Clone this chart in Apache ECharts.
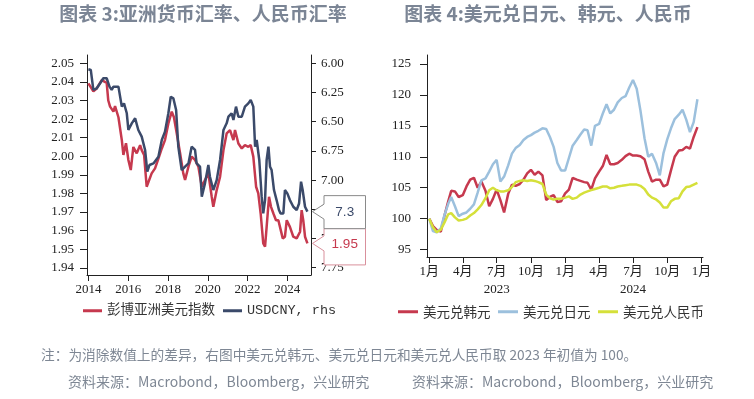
<!DOCTYPE html>
<html>
<head>
<meta charset="utf-8">
<script src="https://cdn.jsdelivr.net/npm/echarts@6/dist/echarts.min.js"></script>
<style>
html,body{margin:0;padding:0;background:#fff;}
#main{width:754px;height:399px;}
</style>
</head>
<body>
<div id="main"></div>
<script>
// 图表3：彭博亚洲美元指数（左轴）
var adxyTime = [2014.00,2014.25,2014.42,2014.67,2014.92,
  2015.00,2015.09,2015.26,2015.34,2015.51,2015.68,2015.76,2015.89,
  2016.01,2016.13,2016.26,2016.43,2016.60,2016.68,2016.80,2016.93,
  2017.02,2017.18,2017.35,2017.52,2017.69,2017.85,
  2018.02,2018.19,2018.30,2018.44,2018.61,2018.77,2018.86,
  2019.03,2019.19,2019.36,2019.53,2019.70,2019.86,
  2020.03,2020.20,2020.28,2020.45,2020.62,2020.79,2020.95,
  2021.12,2021.29,2021.37,2021.54,2021.71,2021.87,
  2022.04,2022.16,2022.29,2022.43,2022.54,2022.66,2022.79,2022.88,2022.96,
  2023.08,2023.18,2023.30,2023.43,2023.55,2023.63,2023.77,2023.88,2023.97,
  2024.13,2024.30,2024.47,2024.64,2024.72,2024.80,2024.89,2025.01];
var adxyVal = [2.0392,2.0350,2.0365,2.0410,2.0395,
  2.0300,2.0267,2.0240,2.0270,2.0210,2.0087,2.0007,2.0070,
  1.9980,1.9926,2.0050,2.0016,2.0060,2.0033,2.0007,1.9836,
  1.9827,1.9908,1.9935,1.9988,2.0042,2.0087,
  2.0177,2.0240,2.0210,2.0123,2.0016,1.9908,1.9872,
  1.9944,1.9998,1.9980,1.9944,1.9836,1.9872,
  1.9908,1.9782,1.9728,1.9818,1.9890,2.0033,2.0123,
  2.0141,2.0087,2.0141,2.0069,2.0042,2.0060,
  2.0051,2.0060,1.9998,1.9836,1.9800,1.9692,1.9531,1.9513,1.9620,
  1.9782,1.9728,1.9692,1.9656,1.9656,1.9620,1.9558,1.9567,1.9656,
  1.9620,1.9567,1.9558,1.9594,1.9710,1.9656,1.9567,1.9531];
// USDCNY（右轴，逆序）
var cnyTime = [2014.00,2014.12,2014.25,2014.42,2014.59,2014.75,2014.92,
  2015.06,2015.17,2015.26,2015.51,2015.68,2015.79,2015.93,
  2016.01,2016.18,2016.35,2016.51,2016.68,2016.85,2016.96,
  2017.07,2017.27,2017.52,2017.69,2017.85,
  2018.02,2018.14,2018.27,2018.41,2018.52,2018.69,2018.86,
  2019.03,2019.19,2019.36,2019.44,2019.61,2019.70,2019.86,
  2020.03,2020.11,2020.28,2020.45,2020.62,2020.79,2020.95,
  2021.04,2021.20,2021.29,2021.42,2021.54,2021.71,2021.87,
  2022.04,2022.16,2022.29,2022.38,2022.46,2022.59,2022.71,2022.79,2022.88,2022.96,
  2023.05,2023.13,2023.21,2023.33,2023.46,2023.58,2023.66,2023.80,2023.88,
  2024.00,2024.13,2024.30,2024.47,2024.59,2024.69,2024.77,2024.89,2025.01];
var cnyVal = [6.051,6.057,6.228,6.214,6.171,6.128,6.128,
  6.200,6.228,6.200,6.200,6.371,6.343,6.428,
  6.571,6.514,6.471,6.571,6.628,6.742,6.928,
  6.871,6.857,6.800,6.657,6.585,
  6.428,6.286,6.300,6.400,6.714,6.914,6.885,
  6.857,6.714,6.742,6.857,6.885,7.142,7.028,
  6.871,6.971,7.085,7.000,6.828,6.571,6.514,
  6.457,6.428,6.485,6.371,6.457,6.457,6.371,
  6.343,6.314,6.371,6.714,6.657,6.828,7.142,7.285,7.171,6.828,
  6.714,6.885,6.914,7.085,7.171,7.256,7.285,7.285,7.085,
  7.114,7.171,7.228,7.256,7.200,7.014,7.085,7.228,7.270];
var yearTicks = [2014,2016,2018,2020,2022,2024];
var leftTicks = [1.94,1.95,1.96,1.97,1.98,1.99,2.00,2.01,2.02,2.03,2.04,2.05];
var rhsTicks = [6.00,6.25,6.50,6.75,7.00,7.25,7.50,7.75];

// 图表4：2023年初=100
var dates = ['2023-01-01','2023-01-11','2023-01-21','2023-02-01','2023-02-11','2023-02-21',
  '2023-03-01','2023-03-11','2023-03-21','2023-04-01','2023-04-11','2023-04-21',
  '2023-05-01','2023-05-11','2023-05-21','2023-06-01','2023-06-11','2023-06-21',
  '2023-07-01','2023-07-11','2023-07-21','2023-08-01','2023-08-11','2023-08-21',
  '2023-09-01','2023-09-11','2023-09-21','2023-10-01','2023-10-11','2023-10-21',
  '2023-11-01','2023-11-11','2023-11-21','2023-12-01','2023-12-11','2023-12-21',
  '2024-01-01','2024-01-11','2024-01-21','2024-02-01','2024-02-11','2024-02-21',
  '2024-03-01','2024-03-11','2024-03-21','2024-04-01','2024-04-11','2024-04-21',
  '2024-05-01','2024-05-11','2024-05-21','2024-06-01','2024-06-11','2024-06-21',
  '2024-07-01','2024-07-11','2024-07-21','2024-08-01','2024-08-11','2024-08-21',
  '2024-09-01','2024-09-11','2024-09-21','2024-10-01','2024-10-11','2024-10-21',
  '2024-11-01','2024-11-11','2024-11-21','2024-12-01','2024-12-11','2024-12-21'];
var krw = [100.0,98.8,98.2, 97.9,100.5,102.8, 104.5,104.4,103.5, 103.8,105.2,106.3,
  106.6,105.0,106.0, 104.5,102.0,103.2, 104.7,103.0,101.0, 104.0,105.5,105.3,
  105.6,106.3,107.3, 107.9,107.1,107.6, 107.0,103.0,103.5, 103.8,102.7,102.8,
  104.1,104.7,106.6, 106.3,106.1,105.9, 105.8,104.7,106.5, 107.6,108.5,110.3,
  108.8,108.8,109.0, 109.5,110.1,110.5, 110.2,110.2,110.1, 109.6,107.6,106.0,
  106.3,106.3,105.2, 105.5,107.8,110.0, 111.0,111.1,111.6, 111.3,113.2,114.8];
var jpy = [100.0,98.0,97.8, 98.4,100.6,102.4, 103.5,102.0,100.4, 100.8,101.0,101.6,
  102.3,104.2,106.2, 106.5,107.6,108.8, 109.5,106.0,106.8, 108.6,110.5,111.4,
  111.9,112.7,113.2, 113.5,113.9,114.2, 114.6,114.5,113.2, 111.6,109.0,107.8,
  107.8,109.8,111.8, 112.7,113.6,114.4, 114.3,111.8,115.0, 115.3,117.0,118.5,
  117.0,117.6,118.8, 119.5,119.8,121.2, 122.4,121.0,117.5, 113.0,110.0,110.5,
  109.0,107.0,110.6, 112.8,114.6,116.1, 116.8,117.6,116.0, 114.0,115.6,119.3];
var rmb = [100.0,98.6,97.8, 98.2,99.4,100.7, 100.9,100.2,99.7, 99.8,100.0,100.5,
  100.9,101.5,102.2, 103.3,104.6,105.0, 104.6,104.4,104.4, 104.6,105.1,105.9,
  106.1,106.2,106.1, 106.2,106.1,105.9, 105.6,103.9,103.3, 103.1,103.2,103.2,
  103.4,103.6,103.2, 103.4,103.9,104.2, 104.4,104.6,104.8, 105.0,105.2,105.2,
  104.9,105.0,105.2, 105.3,105.4,105.5, 105.5,105.5,105.3, 104.8,103.9,103.4,
  103.1,102.6,101.8, 101.8,102.8,103.2, 103.3,104.4,105.1, 105.2,105.5,105.8];
var valTicks = [95,100,105,110,115,120,125];
var monthTicks = ['2023-01-01','2023-04-01','2023-07-01','2023-10-01','2024-01-01',
  '2024-04-01','2024-07-01','2024-10-01','2025-01-01'];

var RED = '#c6394e', NAVY = '#3b4a6a', BLUE = '#9cc0dd', YELLOW = '#d5e03a';
var serif = "'Liberation Serif', 'Noto Sans CJK SC'";
var cjk = "'Noto Sans CJK SC'";

function ts(s) { return echarts.time.parse(s).getTime(); }
function pairs(t, v) {
  return t.map(function(x, i) { return [typeof x === 'string' ? ts(x) : x, v[i]]; });
}

var axisLineStyle = { show: true, onZero: false, lineStyle: { color: '#222', width: 1 } };
var tickStyle = { color: '#222' };
var labelStyle = { fontFamily: serif, fontSize: 13, color: '#222' };
var monthTs = monthTicks.map(ts);

var chart = echarts.init(document.getElementById('main'));
var option = {
  animation: false,
  backgroundColor: '#fff',
  grid: [
    { left: 87, top: 55, width: 224, height: 220 },
    { left: 427, top: 55, width: 276, height: 202 }
  ],
  legend: [
    {
      data: ['彭博亚洲美元指数', 'USDCNY, rhs'],
      left: 78, top: 299, icon: 'rect', itemWidth: 19, itemHeight: 3, itemGap: 8,
      textStyle: { fontFamily: "'Liberation Mono', 'Noto Sans CJK SC'", fontSize: 13.5, color: '#333' }
    },
    {
      data: ['美元兑韩元', '美元兑日元', '美元兑人民币'],
      left: 393, top: 300, icon: 'rect', itemWidth: 20, itemHeight: 3, itemGap: 7.5,
      textStyle: { fontFamily: cjk, fontSize: 13.5, color: '#333' }
    }
  ],
  xAxis: [
    {
      gridIndex: 0, type: 'value', min: 2013.93, max: 2025.19,
      axisLine: axisLineStyle,
      axisTick: { show: true, length: 6, customValues: yearTicks, lineStyle: tickStyle },
      axisLabel: Object.assign({ customValues: yearTicks, margin: 8, formatter: function(v) { return String(v); } }, labelStyle),
      splitLine: { show: false }
    },
    {
      gridIndex: 1, type: 'value', min: ts('2022-12-26'), max: ts('2025-01-05'),
      axisLine: axisLineStyle,
      axisTick: { show: true, length: 6, customValues: monthTs, lineStyle: tickStyle },
      axisLabel: Object.assign({
        customValues: monthTs, margin: 6, lineHeight: 18,
        formatter: function(v) {
          var d = new Date(v), m = d.getMonth() + 1;
          return m === 7 ? m + '月\n' + d.getFullYear() : m + '月';
        }
      }, labelStyle),
      splitLine: { show: false }
    }
  ],
  yAxis: [
    {
      gridIndex: 0, type: 'value', position: 'left', min: 1.9361, max: 2.0545,
      axisLine: axisLineStyle,
      axisTick: { show: true, length: 7, customValues: leftTicks, lineStyle: tickStyle },
      axisLabel: Object.assign({ customValues: leftTicks, margin: 13, formatter: function(v) { return v.toFixed(2); } }, labelStyle),
      splitLine: { show: false }
    },
    {
      gridIndex: 0, type: 'value', position: 'right', inverse: true, min: 5.929, max: 7.8125,
      axisLine: axisLineStyle,
      axisTick: { show: true, length: 5, customValues: rhsTicks, lineStyle: tickStyle },
      axisLabel: Object.assign({ customValues: rhsTicks, margin: 10, formatter: function(v) { return v.toFixed(2); } }, labelStyle),
      splitLine: { show: false }
    },
    {
      gridIndex: 1, type: 'value', position: 'left', min: 93.8, max: 126.45,
      axisLine: axisLineStyle,
      axisTick: { show: true, length: 7, customValues: valTicks, lineStyle: tickStyle },
      axisLabel: Object.assign({ customValues: valTicks, margin: 16 }, labelStyle),
      splitLine: { show: false }
    }
  ],
  series: [
    { name: '彭博亚洲美元指数', type: 'line', xAxisIndex: 0, yAxisIndex: 0, data: pairs(adxyTime, adxyVal),
      showSymbol: false, color: RED, lineStyle: { width: 2.5, color: RED } },
    { name: 'USDCNY, rhs', type: 'line', xAxisIndex: 0, yAxisIndex: 1, data: pairs(cnyTime, cnyVal),
      showSymbol: false, color: NAVY, lineStyle: { width: 2.5, color: NAVY } },
    { name: '美元兑韩元', type: 'line', xAxisIndex: 1, yAxisIndex: 2, data: pairs(dates, krw),
      showSymbol: false, color: RED, lineStyle: { width: 2.5, color: RED } },
    { name: '美元兑日元', type: 'line', xAxisIndex: 1, yAxisIndex: 2, data: pairs(dates, jpy),
      showSymbol: false, color: BLUE, lineStyle: { width: 2.5, color: BLUE } },
    { name: '美元兑人民币', type: 'line', xAxisIndex: 1, yAxisIndex: 2, data: pairs(dates, rmb),
      showSymbol: false, color: YELLOW, lineStyle: { width: 2.5, color: YELLOW } }
  ]
};
chart.setOption(option);

// 末值标注框：箭头指向右轴上的末值位置
function callout(id, tx, ty, up, down, text, stroke, color) {
  var d = 11.5, w = 41.5, a = 7.5;
  return [
    { type: 'polygon', id: id + 'b', z: 100,
      shape: { points: [[tx, ty], [tx + d, ty - a], [tx + d, ty - up], [tx + d + w, ty - up],
        [tx + d + w, ty + down], [tx + d, ty + down], [tx + d, ty + a]] },
      style: { fill: '#fff', stroke: stroke, lineWidth: 1 } },
    { type: 'text', id: id + 't', z: 101, x: tx + d + w / 2, y: ty + 1,
      style: { text: text, fill: color, fontSize: 13.5, fontFamily: 'Liberation Sans', align: 'center', verticalAlign: 'middle' } }
  ];
}
var lastC = cnyVal[cnyVal.length - 1], lastA = adxyVal[adxyVal.length - 1];
var axisX = chart.convertToPixel({ xAxisIndex: 0 }, 2025.19) + 1.5;
var yC = chart.convertToPixel({ seriesIndex: 1 }, [cnyTime[cnyTime.length - 1], lastC])[1];
var yA = chart.convertToPixel({ seriesIndex: 0 }, [adxyTime[adxyTime.length - 1], lastA])[1];
var boxTop2 = Math.max(yA - 16.5, yC + 17);

function txt(id, text, x, y, size, weight, color, align) {
  return { type: 'text', id: id, x: x, y: y, z: 50,
    style: { text: text, fontSize: size, fontWeight: weight, fontFamily: cjk, fill: color,
      align: align, verticalAlign: 'middle' } };
}

var graphics = [
  txt('t1', '图表 3:亚洲货币汇率、人民币汇率', 203, 14, 19, 'bold', '#7b8595', 'center'),
  txt('t2', '图表 4:美元兑日元、韩元、人民币', 548, 14, 19, 'bold', '#7b8595', 'center'),
  txt('note', '注：为消除数值上的差异，右图中美元兑韩元、美元兑日元和美元兑人民币取 2023 年初值为 100。', 41, 355, 13.7, 'normal', '#7e8794', 'left'),
  txt('s1', '资料来源：Macrobond，Bloomberg，兴业研究', 68, 382, 14, 'normal', '#7e8794', 'left'),
  txt('s2', '资料来源：Macrobond，Bloomberg，兴业研究', 412, 382, 14, 'normal', '#7e8794', 'left')
].concat(
  callout('c2', axisX, yA, yA - boxTop2, 21.5, lastA.toFixed(2), '#d9909c', RED),
  callout('c1', axisX, yC, 16, 17, lastC.toFixed(1), '#8a8a8a', '#3b4a6a')
);
chart.setOption({ graphic: graphics });
</script>
</body>
</html>
